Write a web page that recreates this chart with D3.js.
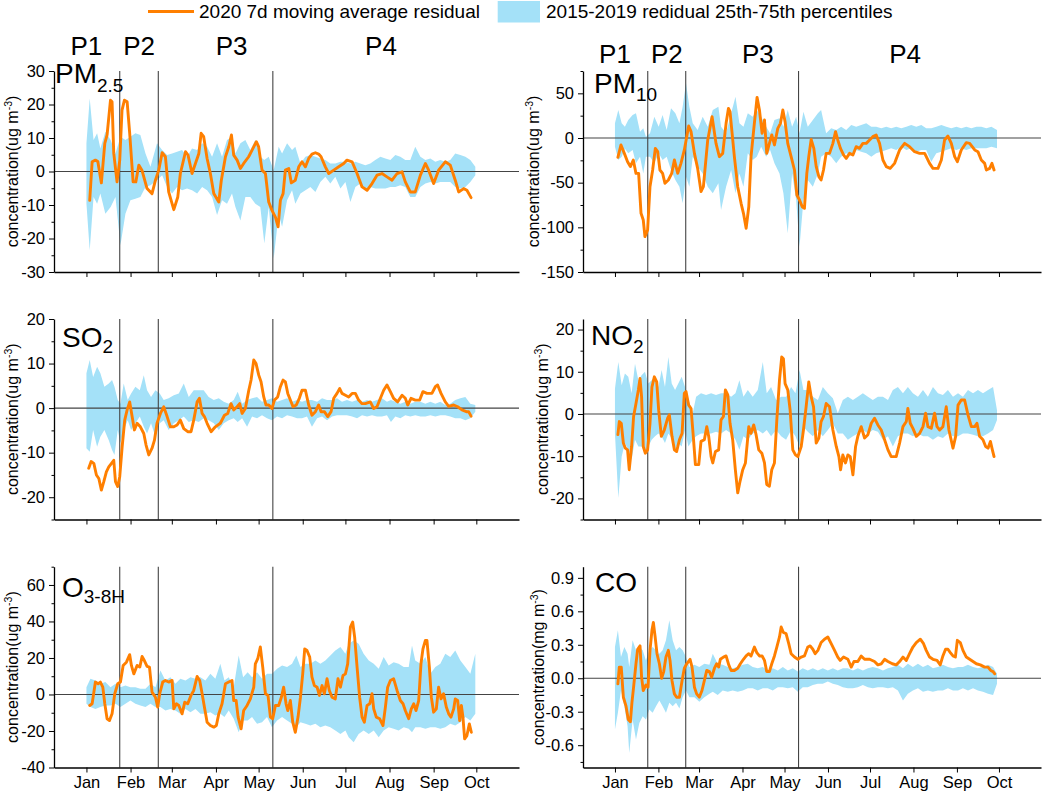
<!DOCTYPE html>
<html><head><meta charset="utf-8">
<script src="https://cdn.jsdelivr.net/npm/d3@7"></script>
<style>
body{margin:0;background:#fff}
svg{display:block}
text{font-family:"Liberation Sans",Arial,Helvetica,sans-serif;fill:#000}
</style>
</head><body>
<svg id="c" width="1052" height="793"></svg>
<script>
// ---------- DATA ----------
const monthLabels = ["Jan","Feb","Mar","Apr","May","Jun","Jul","Aug","Sep","Oct"];
const periodBoundaryDays = [23.4, 50.5, 131];          // days after 1 Jan 2020
const periodNames = ["P1","P2","P3","P4"];
const periodNameDays = [0, 37, 102, 207];
const legendLabels = ["2020 7d moving average residual","2015-2019 redidual 25th-75th percentiles"];

// line: [day, value]; band: [day, p25, p75]
const pm25Line = [[2.3,-8.6],[4,2.9],[6.3,3.4],[8,3],[10.5,-3.4],[12.9,8.4],[14.5,10.9],[16.9,21.3],[18,20.8],[19.2,5.4],[21.5,-3.1],[23.4,3.4],[25,18.3],[26.7,21.3],[28.6,20.8],[30.4,11.4],[32.8,-3.1],[34.7,-3.1],[36.8,1.9],[39,0.4],[42.6,-5.1],[46.1,-6.6],[48.5,-2.6],[50.8,0.4],[53.2,5.6],[55.5,4.4],[57.8,-6.1],[61.4,-11.4],[64.2,-7.6],[66,-0.6],[69.6,5.9],[71.4,4.9],[74.2,-0.6],[76.6,2.4],[79,5.4],[80.6,11.4],[82.4,10.4],[84.8,3.9],[87.1,-0.6],[89.5,-6.6],[93,-9.1],[94.8,-2.6],[97.7,4.4],[100,7.4],[101.9,10.9],[103.5,4.9],[105.9,3.4],[108.2,0.9],[110.5,2.4],[114,4.4],[116.4,6.4],[119.4,8.9],[121,7.4],[123.4,0.4],[125.8,-0.6],[128.1,-9.1],[130.4,-11.6],[132.8,-13.6],[134.7,-16.5],[136.3,-8.6],[138.2,-6.6],[139.8,0.4],[142.2,0.9],[144,-3.4],[146.8,-2.6],[149.2,1.4],[151.5,2.9],[153.9,1.4],[156.2,3.9],[158.5,5.2],[160.9,5.6],[163.2,5.2],[164.9,4.4],[167.9,1.4],[170.3,-0.6],[173.8,0.4],[177.3,1.4],[180.8,2.4],[183.1,3.4],[186.7,2.9],[190.2,-0.6],[193.7,-4.6],[197.2,-5.6],[200.7,-3.6],[204.2,-1.1],[207.7,-0.6],[211.2,-1.6],[214.8,-2.6],[218.3,-0.6],[221.8,-0.1],[224.1,-3.1],[227.6,-6.1],[231.1,-6.1],[234.7,-1.1],[238.2,2.4],[240.5,0.4],[244,-3.6],[247.5,0.4],[252.2,2.9],[255.7,1.9],[259.2,-2.6],[261.6,-6.1],[265.1,-5.1],[267.4,-5.6],[270.3,-7.8]];
const pm25Band = [[0,-9.6,8.4],[2.3,-23.5,21.8],[5,-7.6,9.4],[7.5,-9.6,11.4],[9.8,-6.6,6.9],[13.3,-12.6,11.9],[17,-10.6,9.4],[20.4,-7.6,5.4],[23.9,-22,10.4],[27.4,-12.6,9.4],[30.9,-8.6,10.4],[34.4,-8.1,11.4],[37.9,-7.6,10.9],[41.5,-4.6,5.4],[45,-4.1,1.4],[49.6,-2.6,8.4],[53.2,-1.1,6.4],[56.7,-4.6,4.9],[60.2,-6.6,5.4],[63.7,-4.6,5.9],[67.2,-5.6,6.4],[70.7,-5.1,4.4],[74.2,-5.6,6.9],[77.8,-6.6,6.4],[81.3,-4.6,8.4],[84.8,-5.6,7.4],[88.3,-7.6,4.4],[91.8,-13,8.4],[95.3,-8.6,4.4],[98.8,-9.6,9.4],[102.3,-6.6,10.4],[104.7,-10.6,5.4],[108.2,-14.6,8.4],[111.7,-7.6,9.4],[115.2,-7.6,6.4],[118.7,-9.6,9.4],[122.2,-10.6,4.4],[125,-21.5,3.4],[128.1,-10.6,4.4],[131.6,-26,0.4],[135.1,-12.6,7.4],[137.5,-16.5,5.4],[141,-8.6,8.4],[144.5,-5.6,6.4],[146.8,-9.6,7.4],[150.4,-6.6,2.4],[153.9,-5.6,4.4],[157.4,-4.6,4.9],[160.9,-6.1,4.4],[164.4,-3.1,3.9],[167.9,-1.6,3.4],[171.4,-3.6,2.4],[174.9,-1.6,2.4],[178.5,-5.1,2.9],[182,-3.1,2.9],[185.5,-9.1,2.4],[189,-4.6,2.9],[192.5,-3.6,2.4],[196,-5.1,1.9],[199.5,-4.6,2.4],[203,-5.1,3.4],[206.6,-5.1,4.4],[210.1,-5.1,3.9],[213.6,-4.6,3.4],[217.1,-4.6,4.9],[220.6,-4.1,4.4],[224.1,-4.6,3.4],[227.6,-7.6,3.4],[231.1,-7.6,7.4],[234.7,-4.6,4.4],[238.2,-3.6,3.4],[241.7,-3.1,3.9],[245.2,-3.6,2.9],[248.7,-3.1,3.4],[252.2,-3.1,2.9],[255.7,-3.1,3.4],[259.2,-4.6,5.4],[262.8,-5.1,4.9],[266.3,-4.6,4.4],[269.8,-3.1,3.4],[273.3,-1.1,1.4]];

const pm10Line = [[2.1,-21.6],[4.3,-7.8],[6.7,-17.2],[9,-26.5],[11,-32],[13.1,-24.6],[15,-39.6],[16.9,-39.6],[18.6,-84.3],[20.2,-91.8],[21.4,-110.4],[23.3,-103],[25,-54.5],[26.9,-35.8],[28.8,-11.6],[30.5,-15.3],[32.1,-35.8],[34,-39.6],[35.7,-50.7],[38.1,-47],[40.5,-39.6],[42.4,-24.6],[44.8,-39.6],[47.1,-28.4],[49.5,-13.4],[52.6,13.4],[54.3,7.1],[56.7,-17.2],[59,-34],[61.4,-60],[63.1,-54.5],[66.2,-2.2],[69.3,23.9],[72.1,-6],[74.5,-20.9],[76.9,-17.2],[79.3,16.4],[81,33.2],[82.1,29.5],[85.2,-20.9],[87.6,-54.5],[90,-73.1],[91.7,-84.3],[93.6,-101],[95.5,-76.9],[97.1,-20.9],[99,9],[101.4,45.5],[103.1,31.3],[105,5.2],[106.7,20.1],[108.3,-17.2],[110.2,-6],[111.9,3.4],[113.8,-7.8],[116.2,10.8],[118.1,16.4],[119.8,31.3],[121.4,18.3],[123.3,-6],[125.7,-20.9],[128.1,-35.8],[129.8,-63.8],[131.7,-69.4],[133.6,-76.9],[135.2,-78.7],[136.9,-39.6],[138.3,-20.9],[140,-1.5],[141.9,-11.6],[143.6,-32],[145.5,-43.3],[147.1,-47],[148.8,-35.8],[150.7,-17.2],[153.1,-17.2],[155.5,-6],[157.4,7.1],[159,-2.2],[160.9,-11.6],[163.1,-19],[165,-22.8],[167.4,-17.2],[169.8,-19],[172.1,-9.7],[174.5,-11.6],[176.9,-6],[179.3,-6],[181.7,-2.2],[184,1.5],[186.4,3.4],[188.8,-6],[191.2,-24.6],[193.6,-32],[196.4,-34],[199.5,-28.4],[203.1,-13.4],[206.7,-6],[210.2,-9.7],[213.8,-15.3],[217.4,-17.2],[221,-17.2],[224.5,-28.4],[226.9,-34],[230.5,-34],[232.9,-24.6],[235.2,-2.2],[237.6,2.2],[240,-6],[242.4,-20.9],[244.3,-26.5],[247.1,-13.4],[250.7,-5.2],[253.1,-6],[256.7,-13.4],[259,-15.3],[261.4,-24.6],[263.8,-28.4],[265,-35.8],[267.4,-34],[269,-28.4],[270.5,-35.8]];
const pm10Band = [[0,-9.7,16.4],[2.4,-24.6,31.3],[4.8,-20.9,16.4],[7.1,-12,12.7],[9.5,-17.2,20.1],[12.6,-13.4,25.7],[15,-28.4,27.6],[17.9,-20.9,7.1],[20.2,-39.6,10.8],[22.1,-20.9,1.5],[25,-20.9,5.2],[28.1,-28.4,23.9],[31.2,-17.2,12.7],[34,-24.6,25.7],[36.9,-20.9,9],[40,-35.8,33.2],[43.1,-47,27.6],[46,-54.5,16.4],[48.3,-73.1,35.1],[50.7,-43.3,61.2],[53.1,-54.5,35.1],[55.5,-20.9,16.4],[59,-32,9],[62.6,-39.6,23.9],[66.2,-54.5,12.7],[69.8,-61.9,31.3],[73.8,-50.7,35.1],[75.7,-80.6,12.7],[79.3,-54.5,5.2],[82.9,-35.8,27.6],[86,-61.9,46.3],[88.8,-39.6,16.4],[91.7,-54.5,12.7],[94.8,-17.2,27.6],[98.3,-24.6,23.9],[101.2,-20.9,31.3],[104.3,-9.7,23.9],[107.9,-20.9,12.7],[110.7,-13.4,5.2],[113.8,-28.4,20.1],[117.4,-39.6,22],[120.2,-61.9,12.7],[123.3,-106.7,31.3],[126.4,-39.6,12.7],[129.3,-69.4,23.9],[131.7,-121.6,5.2],[134.5,-69.4,29.5],[137.6,-47,12.7],[141.2,-54.5,20.1],[144.8,-39.6,27.6],[147.1,-20.9,31.3],[150.7,-17.2,5.2],[154.3,-20.9,10.8],[157.9,-28.4,9],[161.4,-20.9,12.7],[165,-17.2,9],[168.6,-19,14.6],[172.1,-13.4,12.7],[175.7,-15.3,14.6],[179.3,-17.2,16.4],[182.9,-20.9,12.7],[186.4,-17.2,12.7],[190,-15.3,10.8],[193.6,-13.4,12.7],[197.1,-11.6,10.8],[200.7,-13.4,12.7],[204.3,-9.7,10.8],[207.9,-13.4,12.7],[211.4,-11.6,14.6],[215,-15.3,12.7],[218.6,-13.4,14.6],[222.1,-13.4,10.8],[225.7,-26.5,10.8],[229.3,-17.2,12.7],[232.9,-15.3,14.6],[236.4,-13.4,12.7],[240,-11.6,10.8],[243.6,-13.4,12.7],[247.1,-11.6,10.8],[250.7,-13.4,12.7],[254.3,-11.6,10.8],[257.9,-11.6,12.7],[261.4,-11.6,12.7],[265,-11.6,10.8],[268.6,-9.7,12.7],[272.6,-11.6,9]];

const so2Line = [[1.6,-13.5],[3.3,-12],[5.2,-12.4],[7,-15],[8.7,-15.8],[10.5,-18.4],[12.2,-16.5],[14,-14.3],[15.7,-13.2],[17.6,-12.4],[19.2,-11.7],[20.4,-16.5],[22,-17.6],[23.4,-15.4],[25.1,-8.7],[26.9,-2.7],[28.6,-0.4],[30.4,1.4],[32.1,-1.9],[33.7,-4.9],[35.6,-3.4],[37.9,-4.2],[40.3,-5.7],[41.9,-8.3],[43.8,-10.5],[46.1,-9],[47.8,-7.2],[49.6,-3.4],[52,-1.2],[54.3,0.3],[56.7,-1.9],[59,-4.2],[61.4,-4.2],[63.7,-3.8],[66,-2.7],[68.4,-4.6],[71.2,-5.3],[73.5,-5.3],[75.4,-2.7],[77.8,1.4],[79.4,2.2],[81.3,-1.2],[82.9,-1.9],[84.8,-3.4],[87.6,-5.3],[90.6,-4.2],[94.1,-3.4],[97,-1.6],[99.3,-1.2],[101.6,1],[103.5,-0.4],[105.9,0.3],[107.7,1],[109.4,-1.2],[111.7,-0.1],[114.1,4],[115.7,6.3],[117.6,10.8],[119.2,10],[121.1,7.4],[122.7,5.9],[124.6,2.5],[126.2,0.7],[128.1,0.7],[130.4,-0.1],[132.1,1.8],[134.4,2.5],[136.3,4.8],[138.2,6.3],[139.8,5.9],[141.5,3.3],[143.3,1.8],[145.2,0.3],[147.5,0.7],[149.6,2.2],[151.5,4],[153.9,4],[156.2,0.7],[158.5,-1.6],[160.9,-0.8],[163.2,0.7],[164.9,-0.8],[167.2,-0.8],[169.6,-1.9],[171.9,-0.8],[173.8,2.2],[176.1,3.3],[178,4.4],[179.6,3.3],[182,2.9],[184.3,2.5],[186.7,3.3],[189,3.3],[191.3,1.8],[193.7,1],[196,1],[199.5,1.4],[201.9,-0.1],[204.2,0.3],[206.6,2.2],[208.9,4],[211.2,5.2],[213.6,3.7],[215.9,2.2],[218.7,1.4],[221.8,2.9],[224.1,2.2],[225.8,0.7],[228.1,2.2],[231.1,1.8],[234.2,1.8],[236.5,3.7],[239.3,3.3],[242.8,3.3],[245.2,4.8],[246.8,5.2],[249.2,3.3],[252.2,1.4],[254.6,0.4],[258.1,0.7],[260.9,0.3],[263.9,-0.4],[267,-0.8],[268.6,-0.8],[270.3,-1.8]];
const so2Band = [[0,-9,7.8],[2.3,-9.8,10.8],[4.7,-4.9,7],[7.5,-8.7,9.3],[9.8,-6.4,7.8],[12.6,-4.9,4.8],[15.7,-7.2,5.5],[18,-9.4,6.3],[19.7,-10.5,4.8],[22,-4.9,1.8],[23.9,-7.9,1],[26.2,-4.9,5.5],[29,-2.7,1.8],[31.4,-4.9,3.3],[34.4,-3.4,4.8],[37.5,-1.9,4],[40.3,-4.2,7.4],[42.6,-5.7,4],[45.4,-3.4,2.5],[48.5,-6.4,4],[51.5,-3.4,3.3],[54.3,-2.7,1.8],[57.8,-4.9,2.2],[61.4,-3.4,2.9],[64.9,-2.7,3.3],[68.4,-1.9,5.5],[71.9,-3.1,2.5],[75.4,-2.7,4],[78.9,-3.1,4],[82.4,-2.3,4],[85.9,-2.7,2.5],[89.5,-3.4,1.8],[93,-4.9,2.2],[96.5,-3.4,1.4],[100,-2.7,1],[103.5,-2.3,1.8],[106.3,-3.1,3.7],[109.4,-2.3,1],[112.9,-4.2,1.8],[116.4,-1.9,2.2],[119.9,-2.3,2.5],[123.4,-1.6,1.4],[126.9,-2.3,1.8],[130.4,-2.7,2.2],[134,-1.9,1.4],[137.5,-2.3,1.8],[141,-1.6,2.2],[144.5,-1.9,1.4],[148,-2.3,1.8],[151.5,-2.3,1.4],[155,-1.9,1.8],[158.5,-4.2,1.8],[162.1,-2.3,1.4],[165.6,-1.9,2.2],[169.1,-2.7,1.8],[172.6,-1.9,1.8],[176.1,-1.6,2.2],[179.6,-1.6,1.4],[183.1,-1.6,1.8],[186.7,-1.9,1.4],[190.2,-2.3,1.8],[193.7,-1.6,1.4],[197.2,-1.9,1.8],[200.7,-1.6,1.4],[204.2,-1.9,1.8],[207.7,-1.9,2.2],[211.2,-1.6,1.4],[214,-3.1,1.8],[217.1,-1.9,1.4],[220.6,-2.3,1],[224.1,-1.6,1.4],[227.6,-1.9,1],[231.1,-1.6,1.4],[234.7,-1.9,1.4],[238.2,-1.9,1],[241.7,-1.6,1.4],[245.2,-1.9,1],[248.7,-1.6,1.4],[252.2,-1.6,0.7],[255.7,-1.9,1],[259.2,-2.3,1.8],[262.8,-2.3,2.2],[266.3,-2.7,2.5],[269.8,-2.3,1],[273.3,-0.8,0.7]];

const no2Line = [[2.1,-4.9],[3.1,-1.8],[4.5,-2.2],[6,-6.9],[7.4,-8.1],[9,-8.5],[10.2,-13.2],[11.9,-7.7],[13.3,-0.6],[15,2.5],[16.7,5.7],[17.9,8.4],[19,4.1],[20.2,-7.7],[21.7,-9.3],[23.3,-8.5],[25,-2.2],[26.4,6.4],[28.1,8.8],[29.8,7.6],[31.2,0.9],[33.1,-5.3],[35.2,-3.8],[37.6,-1],[38.8,-0.2],[40.7,-5.3],[42.4,-8.5],[44,-8.9],[46,-6.1],[47.9,-4.6],[49.5,4.9],[50.7,5.3],[52.6,2.1],[54.3,1.3],[56,-5.7],[57.4,-12],[59.8,-12],[61.4,-6.5],[63.8,-6.1],[65.5,-3],[66.9,-5.3],[68.6,-10.1],[69.8,-11.6],[71.7,-8.9],[74,-8.5],[75.7,-1.4],[77.4,-0.6],[78.8,5.7],[80.5,4.5],[82.1,-2.2],[84,-6.1],[85.9,-13.2],[87.6,-18.7],[89.3,-15.9],[91.2,-13.2],[93.1,-11.6],[95.5,-3],[97.1,-4.6],[99,-2.6],[100.7,-4.9],[102.6,-8.5],[104.8,-9.3],[106.7,-11.6],[108.3,-16.7],[110.2,-17.1],[111.9,-13.2],[113.8,-11.6],[115.5,-1.4],[117.4,8],[119,13.5],[120.2,13.1],[121.4,7.2],[123.3,5.7],[125,0.9],[126.9,-8.5],[128.8,-9.7],[130.5,-10.1],[132.9,-7.7],[134.5,-3.8],[136.4,1.7],[138.3,7.6],[140,4.1],[141.7,1.7],[143.6,-6.9],[145.5,-5.7],[147.1,-1.8],[148.8,-0.6],[150.7,2.5],[153.1,1.7],[155.5,-3.8],[157.9,-7.7],[159.8,-10.1],[161,-13.2],[162.6,-9.7],[164.5,-11.6],[166.2,-9.7],[167.9,-10.1],[169.8,-14.4],[171.7,-7.7],[173.3,-5.3],[175.7,-3],[178.1,-5.7],[180.5,-4.9],[182.9,-2.2],[185.2,-1],[187.6,-2.6],[190,-3.8],[192.4,-6.1],[194.8,-8.5],[197.1,-10.1],[200.7,-10.1],[203.1,-6.9],[205.5,-3],[207.9,-1.8],[209,1.3],[210.7,-2.2],[212.6,-3.4],[215,-5.3],[217.4,-4.6],[219.8,-3],[221.7,0.2],[223.3,-3],[225.7,-3.4],[228.1,0.2],[229.8,-3],[231.7,-3.8],[234,-3],[236.4,1.7],[238.3,-3.8],[241.2,-8.1],[243.1,-5.3],[244.8,2.1],[247.1,3.3],[249.5,3.3],[251.9,-0.2],[254.3,-3],[256.7,-3],[258.3,-2.2],[260.2,-5.3],[262.6,-6.1],[264.5,-7.7],[266.2,-8.1],[267.9,-6.5],[269.3,-8.5],[270.5,-10.1]];
const no2Band = [[0,-4.6,6],[2.4,-19.9,12.3],[4.8,-10.1,6.8],[7.1,-6.9,9.6],[9.5,-8.5,8.8],[11.9,-10.8,4.9],[14.3,-6.1,11.9],[16.7,-7.7,8],[19,-7.7,9.2],[21.4,-8.9,10],[23.8,-7.7,7.2],[26.2,-6.1,8],[28.6,-5.3,8.8],[31,-4.6,6.4],[33.3,-5.3,10.4],[35.7,-6.9,6.4],[38.1,-4.6,13.5],[40.5,-5.7,7.2],[42.9,-8.5,5.7],[45.2,-6.9,7.2],[47.6,-7.7,8.8],[50,-3.8,6.4],[52.4,-7.7,3.3],[55.5,-6.1,0.2],[57.9,-5.3,4.1],[61.4,-4.6,4.9],[65,-4.6,4.5],[68.6,-4.6,4.9],[72.1,-4.2,4.5],[75.7,-4.6,4.9],[79.3,-3.8,4.9],[82.9,-4.6,4.1],[86,-6.1,4.9],[88.8,-8.5,8],[91.7,-5.3,4.1],[94.8,-6.1,5.7],[98.3,-4.6,4.1],[101.9,-3.8,5.7],[105.5,-4.6,12.3],[108.3,-3.8,4.9],[111.4,-5.3,6.4],[115,-3.8,3.3],[118.6,-5.3,4.1],[122.1,-6.1,4.1],[125.7,-3.8,6.4],[128.8,-5.3,4.9],[131.7,-7.7,10.4],[134.5,-3,5.7],[137.6,-4.2,5.7],[141.2,-5.3,4.1],[144.8,-3.8,3.3],[148.3,-5.3,6.4],[151.9,-3.8,4.9],[155.5,-2.2,3.7],[159,-4.6,0.2],[162.6,-4.6,3.3],[166.2,-6.1,4.1],[169.8,-5.3,3.3],[173.3,-4.6,4.1],[176.9,-3.8,4.9],[180.5,-4.6,4.1],[184,-3.8,3.3],[187.6,-4.2,4.1],[191.2,-6.1,4.1],[194.8,-5.3,3.3],[198.3,-7.7,5.7],[201.9,-5.3,6.4],[205.5,-4.6,4.9],[209,-4.6,6.4],[212.6,-5.3,4.9],[216.2,-4.6,4.1],[219.8,-5.3,5.7],[223.3,-5.3,4.1],[226.9,-6.1,6.4],[230.5,-5.3,4.9],[234,-5.7,4.5],[237.6,-4.6,5.7],[241.2,-5.3,4.1],[244.8,-5.3,4.9],[248.3,-4.6,4.1],[251.9,-4.6,5.7],[255.5,-4.9,4.9],[259,-5.3,5.7],[262.6,-5.3,4.9],[266.2,-4.6,5.7],[269.8,-3.8,6.4],[272.6,-1.4,0.9]];

const o3Line = [[2.3,-6],[4,-5.1],[6.3,6.8],[8.2,5.9],[9.8,6.8],[11.5,4],[12.9,-5.1],[14.5,-13.3],[16.2,-14.3],[18,-10.6],[19.9,0.4],[22,5.9],[23.9,6.8],[25.8,15.9],[28.1,17.7],[30.4,21.8],[31.6,15.9],[33.3,11.3],[35.6,15.9],[37.5,15],[39.1,20.8],[40.7,18.6],[42.6,15.4],[44.3,15],[46.1,1.3],[48.5,-1.5],[50.1,-6.9],[51.5,0.4],[53.6,6.8],[55.5,7.7],[57.8,6.8],[60.2,7.7],[61.4,-7.9],[63.2,-5.1],[64.9,-6],[67.2,-10.6],[69.1,-4.2],[71.2,-5.1],[73.5,-0.5],[75.4,2.2],[77.8,9.9],[79.6,7.7],[81.3,0.4],[82.9,-6.9],[84.8,-15.2],[87.1,-17],[89.5,-17.9],[91.3,-17],[93,-10.6],[95.3,-5.1],[97.7,5.9],[100,6.8],[102.3,7.7],[103.5,-3.3],[105.2,-3.3],[106.6,-12.4],[108.7,-18.8],[110.5,-8.8],[112.9,-6],[115.2,-2.4],[117.6,4],[118.7,16.8],[120.4,19.6],[122.2,26],[123.9,15],[125.8,0.4],[127.6,-0.5],[129.3,-12.4],[130.9,-13.3],[132.8,-6],[135.1,-6],[137,-1.5],[138.6,4],[140.3,-5.1],[141.5,-8.8],[143.3,-3.3],[145,-15.2],[146.8,-20.7],[148.7,-12.4],[150.4,-1.5],[152,11.3],[153.4,25],[155,24.1],[156.9,20.5],[158.5,9.5],[160.2,4.9],[162.1,4],[163.7,-0.5],[165.6,4.9],[167.2,0.4],[169.1,8.6],[170.7,2.2],[172.6,-1.5],[174.9,-2.4],[176.8,8.6],[178.5,4],[180.3,10.4],[182,11.3],[183.6,16.8],[185.5,36.9],[187.1,39.7],[188.5,31.4],[190.2,15],[192,-1.5],[193.7,-12.4],[195.3,-15.2],[197.2,-6],[199.1,-5.1],[200.7,0.4],[201.9,-7.9],[203.7,-12.4],[206.1,-13.3],[208.4,-17],[210.1,-6.9],[211.7,4],[213.6,7.7],[215.9,8.6],[218.3,2.2],[220.6,-3.3],[222.5,-5.1],[224.1,-8.8],[226.5,-13.3],[228.3,-7.9],[230,-5.1],[231.6,-8.8],[233.5,-3.3],[235.1,16.8],[236.5,25],[238.2,29.6],[239.3,29.6],[241,15],[242.4,-1.5],[244,-9.7],[245.9,-7.9],[247.5,4],[249.2,-2.4],[251,0.4],[252.9,-6.9],[254.6,-10.6],[256.2,-12.4],[258.1,-7.9],[259.2,-2.4],[260.9,-3.3],[262.3,-14.3],[263.5,-6],[264.6,-12.4],[265.8,-24.3],[267.4,-22.5],[269.1,-16.1],[270.5,-20.7]];
const o3Band = [[0,-5.1,4],[2.8,-6.9,8.6],[6.3,-7.9,7.7],[9.8,-6.9,5.9],[13.3,-6,6.8],[16.9,-6,4],[20.4,-5.1,5.9],[23.9,-6.9,4],[27.4,-5.1,4.9],[30.9,-3.3,4],[34.4,-5.1,4],[37.9,-6,3.1],[41.5,-6.9,3.1],[45,-5.1,5.9],[48.5,-6.9,4],[52,-6.9,13.2],[55.5,-8.8,7.7],[59,-7.9,9.5],[62.5,-8.8,5.9],[66,-10.6,8.6],[69.6,-7.9,7.7],[73.1,-9.7,9.5],[76.6,-7.9,8.6],[80.1,-10.6,9.5],[83.6,-10.6,7.7],[87.1,-9.7,11.3],[90.6,-11.5,8.6],[94.1,-10.6,16.8],[97,-12.4,7.7],[100,-8.8,9.5],[103.5,-13.3,4],[107,-20.7,21.4],[110.1,-14.3,9.5],[113.3,-14.3,12.2],[116.4,-12.4,9.5],[119.9,-16.1,12.2],[123.4,-15.2,8.6],[126.9,-12.4,11.3],[130.4,-17.9,11.3],[134,-14.3,14.1],[137.5,-12.4,15.9],[141,-14.3,15],[144.5,-16.1,16.8],[147.5,-17.9,21.4],[150.4,-15.2,15],[153.9,-16.1,16.8],[157.4,-17,16.8],[160.9,-16.1,18.6],[164.4,-17.9,16.8],[167.9,-17,18.6],[171.4,-17.9,21.4],[174.9,-19.7,24.1],[178.5,-21.6,26],[182,-19.7,22.3],[184.3,-23.4,27.8],[187.8,-26.1,29.6],[191.3,-21.6,27.8],[194.8,-19.7,22.3],[198.4,-21.6,18.6],[201.9,-19.7,16.8],[205.4,-23.4,14.1],[208.9,-19.7,20.5],[212.4,-17.9,15.9],[215.9,-18.8,17.7],[219.4,-19.7,16.8],[223,-17.9,15],[226.5,-18.8,15],[228.8,-20.7,26.9],[231.1,-17.9,18.6],[234.7,-17.9,16.8],[238.2,-18.8,20.5],[241.7,-17.9,11.3],[245.2,-17.9,15],[248.7,-18.8,16.8],[252.2,-17.9,22.3],[255.7,-16.1,20.5],[259.2,-17,24.1],[262.8,-15.2,18.6],[266.3,-12.4,15],[269.8,-14.3,11.3],[273.3,-10.6,22.3]];

const coLine = [[2.1,-0.05],[3.1,0.10],[4.5,0.10],[6,-0.17],[7.9,-0.25],[9.5,-0.37],[11,-0.39],[12.1,-0.22],[13.3,-0.08],[15,0.13],[16.2,0.26],[17.9,0.29],[19,0.01],[20.2,-0.11],[22.1,-0.06],[23.6,-0.08],[25,0.25],[26.4,0.43],[27.4,0.50],[28.6,0.38],[30,0.22],[31.7,0.13],[33.3,0],[34.8,0.06],[36.4,0.19],[38.1,0.25],[39.3,0.16],[40.7,-0.02],[42.4,-0.14],[44,-0.17],[46,-0.17],[47.9,-0.02],[49.5,0.09],[51.2,0.13],[53.6,0.17],[55,0.10],[56.7,-0.08],[58.3,-0.14],[60.2,-0.17],[62.1,-0.11],[63.8,-0.02],[65.5,0.07],[67.4,0.06],[69,0.01],[71,0.09],[72.6,0.13],[74,0.10],[75.2,0.17],[77.4,0.19],[79.3,0.20],[81.2,0.12],[82.9,0.07],[85.2,0.07],[87.6,0.09],[89.5,0.13],[91.7,0.17],[93.6,0.20],[95.5,0.22],[97.1,0.20],[99.5,0.28],[101.2,0.23],[103.1,0.20],[105,0.20],[106.7,0.16],[108.3,0.06],[110.2,0.06],[111.9,0.13],[113.8,0.20],[115.5,0.28],[117.4,0.37],[118.6,0.46],[120.2,0.41],[122.1,0.40],[124,0.31],[125.7,0.22],[128.1,0.19],[130.5,0.17],[132.9,0.19],[135.2,0.20],[137.6,0.28],[139.3,0.29],[141.2,0.26],[142.9,0.22],[144.8,0.25],[147.1,0.32],[149.5,0.35],[151.9,0.37],[154.3,0.31],[156.7,0.25],[159,0.19],[160.7,0.16],[163.1,0.19],[166.2,0.17],[168.6,0.10],[170.5,0.15],[173.3,0.15],[175.7,0.20],[178.1,0.17],[181.7,0.17],[185.2,0.15],[187.6,0.12],[190,0.13],[192.4,0.17],[194.8,0.15],[197.9,0.13],[200.7,0.12],[203.1,0.15],[205.5,0.19],[207.9,0.16],[210.2,0.22],[212.6,0.28],[215,0.32],[217.9,0.35],[220.2,0.31],[222.1,0.25],[224.5,0.19],[226.9,0.17],[229.8,0.16],[232.1,0.12],[234,0.20],[235.9,0.26],[237.6,0.26],[239.3,0.23],[241.2,0.20],[242.9,0.19],[244.3,0.34],[246.4,0.32],[248.3,0.25],[250.7,0.19],[253.1,0.17],[255.5,0.15],[257.9,0.13],[260.7,0.12],[263.8,0.10],[266.2,0.10],[268.1,0.07],[269.8,0.06],[271,0.04]];
const coBand = [[0,-0.46,0.28],[2.1,-0.31,0.43],[4.3,-0.11,0.19],[6.7,-0.25,0.28],[9,-0.43,0.22],[10.2,-0.67,0.10],[12.6,-0.37,0.34],[15,-0.55,0.25],[17.4,-0.40,0.28],[19.8,-0.34,0.25],[22.1,-0.37,0.16],[24.5,-0.28,0.25],[26.9,-0.31,0.28],[29.3,-0.25,0.25],[31.7,-0.20,0.22],[34,-0.25,0.25],[36.4,-0.31,0.34],[38.8,-0.22,0.52],[41.2,-0.25,0.34],[43.6,-0.22,0.25],[46,-0.27,0.28],[48.3,-0.17,0.25],[50.7,-0.11,0.19],[53.1,-0.17,0.10],[56.7,-0.17,0.12],[60.2,-0.21,0.10],[63.8,-0.17,0.13],[67.4,-0.14,0.12],[69.8,-0.12,0.22],[73.3,-0.15,0.13],[76.9,-0.11,0.12],[80.5,-0.12,0.10],[84,-0.11,0.09],[87.6,-0.12,0.10],[91.2,-0.11,0.12],[94.8,-0.09,0.13],[98.3,-0.09,0.10],[101.9,-0.11,0.09],[105.5,-0.09,0.10],[109,-0.09,0.07],[112.6,-0.11,0.09],[116.2,-0.08,0.07],[119.8,-0.08,0.10],[123.3,-0.09,0.07],[126.9,-0.08,0.09],[130.5,-0.12,0.06],[134,-0.08,0.09],[137.6,-0.08,0.07],[141.2,-0.06,0.09],[144.8,-0.05,0.07],[148.3,-0.05,0.09],[151.9,-0.03,0.07],[155.5,-0.05,0.09],[159,-0.06,0.07],[162.6,-0.08,0.09],[166.2,-0.09,0.09],[169.8,-0.09,0.07],[173.3,-0.08,0.09],[176.9,-0.06,0.07],[180.5,-0.08,0.09],[184,-0.09,0.10],[187.6,-0.08,0.09],[191.2,-0.08,0.07],[194.8,-0.09,0.09],[198.3,-0.08,0.10],[201.9,-0.11,0.12],[205.5,-0.20,0.09],[209,-0.14,0.13],[212.6,-0.11,0.10],[216.2,-0.09,0.13],[219.8,-0.12,0.10],[223.3,-0.11,0.12],[226.9,-0.12,0.09],[230.5,-0.11,0.10],[234,-0.11,0.12],[237.6,-0.09,0.10],[241.2,-0.11,0.09],[244.8,-0.11,0.10],[248.3,-0.09,0.10],[251.9,-0.11,0.12],[255.5,-0.09,0.10],[259,-0.11,0.09],[262.6,-0.12,0.10],[266.2,-0.14,0.12],[269.8,-0.15,0.10],[272.6,-0.05,0.04]];

// axis ticks
const pm25Ticks = [-30,-20,-10,0,10,20,30],   pm25Minor = [-25,-15,-5,5,15,25];
const pm10Ticks = [-150,-100,-50,0,50],       pm10Minor = [-125,-75,-25,25,75];
const so2Ticks  = [-20,-10,0,10,20],          so2Minor  = [-25,-15,-5,5,15];
const no2Ticks  = [-20,-10,0,10,20],          no2Minor  = [-25,-15,-5,5,15];
const o3Ticks   = [-40,-20,0,20,40,60],       o3Minor   = [-30,-10,10,30,50,70];
const coTicks   = [-0.6,-0.3,0,0.3,0.6,0.9],  coMinor   = [-0.75,-0.45,-0.15,0.15,0.45,0.75];

// ---------- LAYOUT / STYLE ----------
const ORANGE = "#ff7f00", BLUE = "#a4e1f8", REF = "#444";
const layout = { cols:[[54,519],[583,1041]], rows:[[71,272],[319,519.5],[566.7,767.5]], xDays:[-22.8,304] };
const intFmt = v => String(v);
const decFmt = v => v.toFixed(1);

const panels = [
  {main:"PM", sub:"2.5", unit:"ug", line:pm25Line, band:pm25Band, domain:[-30,30], ticks:pm25Ticks, minor:pm25Minor, fmt:intFmt, col:0,row:0, lab:[1,12,9],   yl:42, pY:55},
  {main:"PM", sub:"10",  unit:"ug", line:pm10Line, band:pm10Band, domain:[-150,75], ticks:pm10Ticks, minor:pm10Minor, fmt:intFmt, col:1,row:0, lab:[11,22,8], yl:50, pY:63},
  {main:"SO", sub:"2",   unit:"ug", line:so2Line,  band:so2Band,  domain:[-25,20], ticks:so2Ticks, minor:so2Minor, fmt:intFmt, col:0,row:1, lab:[8,28,6],    yl:42},
  {main:"NO", sub:"2",   unit:"ug", line:no2Line,  band:no2Band,  domain:[-25,22.5], ticks:no2Ticks, minor:no2Minor, fmt:intFmt, col:1,row:1, lab:[8,26,8],  yl:41},
  {main:"O",  sub:"3-8H",unit:"ug", line:o3Line,   band:o3Band,   domain:[-40,70], ticks:o3Ticks, minor:o3Minor, fmt:intFmt, col:0,row:2, lab:[8,30,6.5],    yl:42},
  {main:"CO", sub:"",    unit:"mg", line:coLine,   band:coBand,   domain:[-0.8,1.0], ticks:coTicks, minor:coMinor, fmt:decFmt, col:1,row:2, lab:[12,25,0],  yl:45}
];

const svg = d3.select("#c");
const t0 = Date.UTC(2020,0,1);
const toDate = d => new Date(t0 + d*864e5);
const monthDates = monthLabels.map((m,i) => new Date(Date.UTC(2020,i,1)));

panels.forEach(p => {
  const [x0,x1] = layout.cols[p.col];
  const [yT,yB] = layout.rows[p.row];
  const x = d3.scaleUtc().domain(layout.xDays.map(toDate)).range([x0,x1]);
  const y = d3.scaleLinear().domain(p.domain).range([yB,yT]);
  const g = svg.append("g");

  g.append("path").datum(p.band)
    .attr("fill",BLUE).attr("stroke","none")
    .attr("d", d3.area().x(d=>x(toDate(d[0]))).y0(d=>y(d[1])).y1(d=>y(d[2])));

  g.append("line").attr("x1",x0).attr("x2",x1).attr("y1",y(0)).attr("y2",y(0))
    .attr("stroke",REF).attr("stroke-width",1.1);

  g.selectAll(".pl").data(periodBoundaryDays).join("line")
    .attr("x1",d=>x(toDate(d))).attr("x2",d=>x(toDate(d)))
    .attr("y1",yT).attr("y2",yB).attr("stroke",REF).attr("stroke-width",1.1);

  g.append("path").datum(p.line)
    .attr("fill","none").attr("stroke",ORANGE).attr("stroke-width",2.9)
    .attr("stroke-linejoin","round").attr("stroke-linecap","round")
    .attr("d", d3.line().x(d=>x(toDate(d[0]))).y(d=>y(d[1])));

  // y axis
  g.append("g").attr("transform",`translate(${x0},0)`)
    .call(d3.axisLeft(y).tickValues(p.ticks).tickFormat(p.fmt).tickSize(5).tickPadding(4).tickSizeOuter(0));
  g.append("g").attr("transform",`translate(${x0},0)`)
    .call(d3.axisLeft(y).tickValues(p.minor).tickFormat("").tickSize(2.5).tickSizeOuter(0))
    .call(a=>a.select(".domain").remove());
  // x axis
  g.append("g").attr("transform",`translate(0,${yB})`)
    .call(d3.axisBottom(x).tickValues(monthDates)
      .tickFormat(p.row===2 ? (d,i)=>monthLabels[i] : "")
      .tickSize(5).tickPadding(4).tickSizeOuter(0));

  g.selectAll(".domain").attr("stroke","#000").attr("stroke-width",1.3);
  g.selectAll(".tick line").attr("stroke","#000").attr("stroke-width",1);
  g.selectAll(".tick text").attr("font-size",16.5).attr("font-family",'"Liberation Sans",Arial,sans-serif').attr("fill","#000");

  // y label
  const yl = g.append("text")
    .attr("transform",`translate(${x0 - p.yl},${(yT+yB)/2}) rotate(-90)`)
    .attr("text-anchor","middle").attr("dy","0.35em").attr("font-size",16);
  yl.append("tspan").text(`concentration(${p.unit} m`);
  yl.append("tspan").attr("font-size",10.5).attr("dy",-6).text("-3");
  yl.append("tspan").attr("dy",6).text(")");

  // panel label
  const pl = g.append("text").attr("x",x0+p.lab[0]).attr("y",yT+p.lab[1]).attr("font-size",28);
  pl.append("tspan").text(p.main);
  if (p.sub) pl.append("tspan").attr("font-size",19).attr("dy",p.lab[2]).text(p.sub);

  // period names
  if (p.row===0) {
    g.selectAll(".pn").data(periodNames).join("text")
      .attr("x",(d,i)=>x(toDate(periodNameDays[i]))).attr("y",p.pY)
      .attr("text-anchor","middle").attr("font-size",26).text(d=>d);
  }
});

// legend
const lg = svg.append("g");
lg.append("line").attr("x1",148).attr("x2",194).attr("y1",11.5).attr("y2",11.5)
  .attr("stroke",ORANGE).attr("stroke-width",3);
lg.append("text").attr("x",199).attr("y",18).attr("font-size",19).text(legendLabels[0]);
lg.append("rect").attr("x",497.7).attr("y",1).attr("width",42.3).attr("height",21.5).attr("fill",BLUE);
lg.append("text").attr("x",546).attr("y",18).attr("font-size",19).text(legendLabels[1]);
</script>
</body></html>
